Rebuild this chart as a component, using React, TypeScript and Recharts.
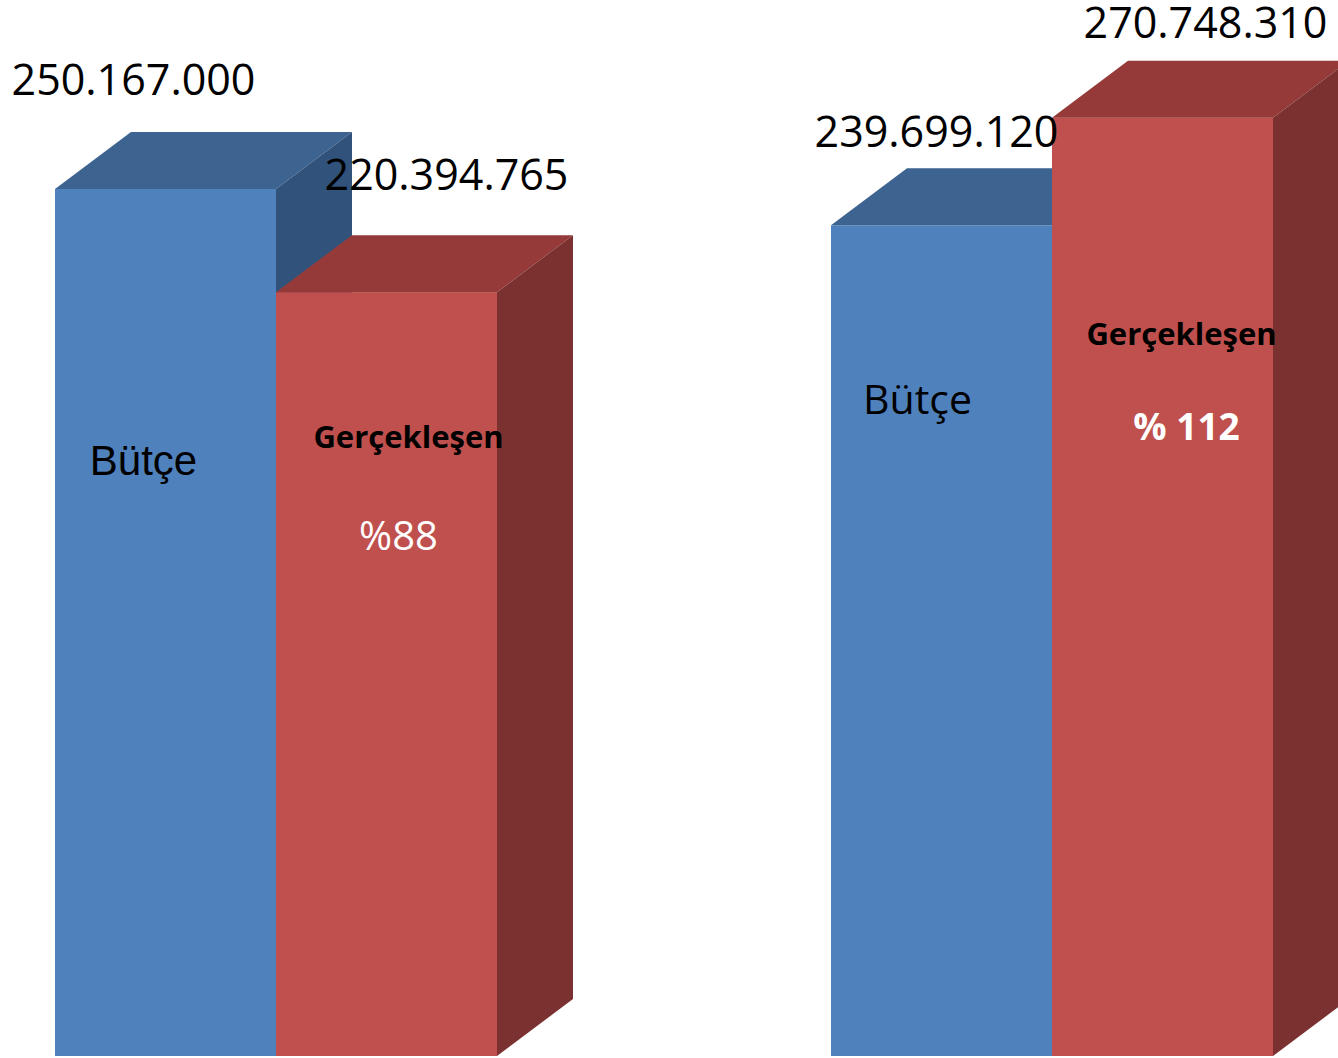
import React from 'react'
import { BarChart, Bar, XAxis, YAxis, LabelList } from 'recharts'

const categories = ['Dönem 1', 'Dönem 2']
const butce = [250167000, 239699120]
const gerceklesen = [220394765, 270748310]
const oran = ['%88', '% 112']

const data = categories.map((name, i) => ({
  name,
  butce: butce[i],
  gerceklesen: gerceklesen[i],
}))

// 3D depth of the boxes
const DX = 76
const DY = 57

const BLUE = { front: '#4F81BD', top: '#3D6390', side: '#31527B' }
const RED = { front: '#C0504D', top: '#953A38', side: '#7A3130' }

// label placement relative to the top-center of each bar's front face
const valueShift = {
  butce: [[-32, -94], [-5, -78]],
  gerceklesen: [[60, -102], [43, -80]],
}

const notes = {
  butce: [
    [{ text: 'Bütçe', dx: -22, dy: 286, size: 42, family: 'Liberation Sans', weight: 400, color: '#000' }],
    [{ text: 'Bütçe', dx: -24, dy: 189, size: 41, family: 'Open Sans', weight: 400, color: '#000' }],
  ],
  gerceklesen: [
    [
      { text: 'Gerçekleşen', dx: 22, dy: 156, size: 31, family: 'Open Sans', weight: 700, color: '#000' },
      { text: oran[0], dx: 12, dy: 258, size: 40, family: 'Open Sans', weight: 400, color: '#fff' },
    ],
    [
      { text: 'Gerçekleşen', dx: 19, dy: 227, size: 31, family: 'Open Sans', weight: 700, color: '#000' },
      { text: oran[1], dx: 24, dy: 322, size: 37, family: 'Open Sans', weight: 700, color: '#fff' },
    ],
  ],
}

const fmt = (v: number) => String(v).replace(/\B(?=(\d{3})+(?!\d))/g, '.')

const Box3D = (props: any) => {
  const { x, y, width, height, palette } = props
  const r = x + width
  const b = y + height
  return (
    <g>
      <rect x={x} y={y} width={width} height={height} fill={palette.front} />
      <polygon
        points={`${x},${y} ${x + DX},${y - DY} ${r + DX},${y - DY} ${r},${y}`}
        fill={palette.top}
      />
      <polygon
        points={`${r},${y} ${r + DX},${y - DY} ${r + DX},${b - DY} ${r},${b}`}
        fill={palette.side}
      />
    </g>
  )
}

const makeLabel = (key: 'butce' | 'gerceklesen') => (props: any) => {
  const { x, y, width, value, index } = props
  const cx = x + width / 2
  const [vx, vy] = valueShift[key][index]
  return (
    <g>
      <text
        x={cx + vx}
        y={y + vy}
        textAnchor="middle"
        fontFamily="Open Sans"
        fontSize={43}
        fill="#000"
      >
        {fmt(value)}
      </text>
      {notes[key][index].map((n) => (
        <text
          key={n.text}
          x={cx + n.dx}
          y={y + n.dy}
          textAnchor="middle"
          fontFamily={n.family}
          fontSize={n.size}
          fontWeight={n.weight}
          fill={n.color}
        >
          {n.text}
        </text>
      ))}
    </g>
  )
}

export default function App() {
  return (
    <div style={{ position: 'absolute', left: 0, top: 0, background: '#fff' }}>
      <BarChart
        width={1338}
        height={1058}
        data={data}
        margin={{ top: 0, right: -102, bottom: 2, left: -112 }}
        barGap={0}
        barCategoryGap={167}
      >
        <XAxis dataKey="name" hide />
        <YAxis hide domain={[0, 304700000]} />
        <Bar
          dataKey="butce"
          name="Bütçe"
          isAnimationActive={false}
          shape={(p: any) => <Box3D {...p} palette={BLUE} />}
        >
          <LabelList dataKey="butce" content={makeLabel('butce')} />
        </Bar>
        <Bar
          dataKey="gerceklesen"
          name="Gerçekleşen"
          isAnimationActive={false}
          shape={(p: any) => <Box3D {...p} palette={RED} />}
        >
          <LabelList dataKey="gerceklesen" content={makeLabel('gerceklesen')} />
        </Bar>
      </BarChart>
    </div>
  )
}
